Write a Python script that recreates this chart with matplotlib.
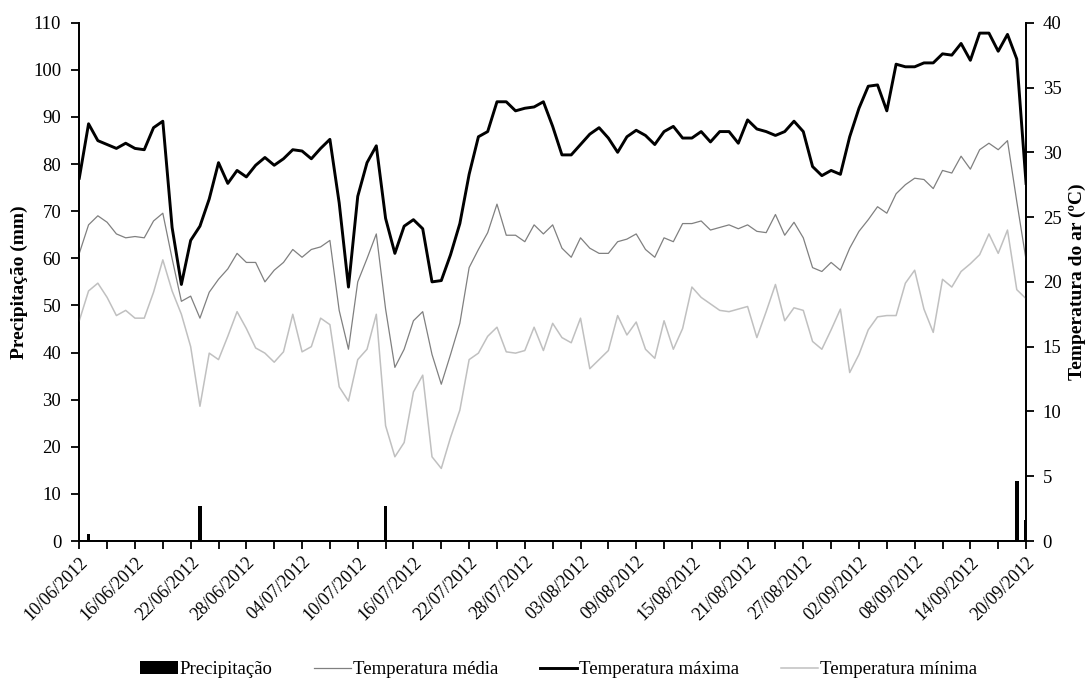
import matplotlib
matplotlib.use("Agg")
import matplotlib.pyplot as plt
import pandas as pd

plt.rcParams['font.family'] = ['Liberation Serif', 'DejaVu Serif']

# daily series, 10/06/2012 .. 20/09/2012
dates = pd.date_range("2012-06-10", "2012-09-20", freq="D")

precip = [0.3, 1.5, 0.2, 0, 0, 0, 0, 0, 0, 0, 0, 0, 0, 7.5, 0, 0, 0, 0, 0, 0,
          0, 0, 0, 0, 0, 0, 0, 0, 0, 0.3, 0, 0, 0, 7.4, 0, 0, 0, 0, 0, 0,
          0, 0.2, 0, 0, 0, 0, 0, 0, 0, 0, 0, 0, 0, 0, 0, 0, 0, 0, 0, 0,
          0, 0, 0, 0, 0, 0, 0, 0, 0, 0, 0, 0, 0, 0, 0, 0, 0, 0, 0, 0,
          0, 0, 0, 0, 0, 0, 0, 0, 0, 0, 0, 0, 0, 0, 0, 0, 0, 0, 0, 0,
          0, 12.7, 4.4]

t_max = [28.0, 32.2, 30.9, 30.6, 30.3, 30.7, 30.3, 30.2, 31.9, 32.4,
         24.2, 19.8, 23.2, 24.3, 26.4, 29.2, 27.6, 28.6, 28.1, 29.0,
         29.6, 29.0, 29.5, 30.2, 30.1, 29.5, 30.3, 31.0, 26.1, 19.6,
         26.6, 29.2, 30.5, 24.9, 22.2, 24.3, 24.8, 24.1, 20.0, 20.1,
         22.1, 24.5, 28.3, 31.2, 31.6, 33.9, 33.9, 33.2, 33.4, 33.5,
         33.9, 32.0, 29.8, 29.8, 30.6, 31.4, 31.9, 31.1, 30.0, 31.2,
         31.7, 31.3, 30.6, 31.6, 32.0, 31.1, 31.1, 31.6, 30.8, 31.6,
         31.6, 30.7, 32.5, 31.8, 31.6, 31.3, 31.6, 32.4, 31.6, 28.9,
         28.2, 28.6, 28.3, 31.2, 33.4, 35.1, 35.2, 33.2, 36.8, 36.6,
         36.6, 36.9, 36.9, 37.6, 37.5, 38.4, 37.1, 39.2, 39.2, 37.8,
         39.1, 37.2, 27.6]

t_mean = [22.2, 24.4, 25.1, 24.6, 23.7, 23.4, 23.5, 23.4, 24.7, 25.3,
          21.8, 18.5, 18.9, 17.2, 19.2, 20.2, 21.0, 22.2, 21.5, 21.5,
          20.0, 20.9, 21.5, 22.5, 21.9, 22.5, 22.7, 23.2, 17.8, 14.8,
          20.0, 21.8, 23.7, 17.9, 13.4, 14.8, 17.0, 17.7, 14.4, 12.1,
          14.4, 16.8, 21.1, 22.5, 23.8, 26.0, 23.6, 23.6, 23.1, 24.4,
          23.7, 24.4, 22.6, 21.9, 23.4, 22.6, 22.2, 22.2, 23.1, 23.3,
          23.7, 22.5, 21.9, 23.4, 23.1, 24.5, 24.5, 24.7, 24.0, 24.2,
          24.4, 24.1, 24.4, 23.9, 23.8, 25.2, 23.6, 24.6, 23.4, 21.1,
          20.8, 21.5, 20.9, 22.6, 23.9, 24.8, 25.8, 25.3, 26.8, 27.5,
          28.0, 27.9, 27.2, 28.6, 28.4, 29.7, 28.7, 30.2, 30.7, 30.2,
          30.9, 26.2, 21.7]

t_min = [17.0, 19.3, 19.9, 18.8, 17.4, 17.8, 17.2, 17.2, 19.2, 21.7,
         19.3, 17.5, 15.0, 10.4, 14.5, 14.0, 15.8, 17.7, 16.4, 14.9,
         14.5, 13.8, 14.6, 17.5, 14.6, 15.0, 17.2, 16.7, 11.9, 10.8,
         14.0, 14.8, 17.5, 8.9, 6.5, 7.6, 11.5, 12.8, 6.5, 5.6,
         8.0, 10.1, 14.0, 14.5, 15.8, 16.5, 14.6, 14.5, 14.7, 16.5,
         14.7, 16.8, 15.7, 15.3, 17.2, 13.3, 14.0, 14.7, 17.4, 15.9,
         16.9, 14.8, 14.1, 17.0, 14.8, 16.4, 19.6, 18.8, 18.3, 17.8,
         17.7, 17.9, 18.1, 15.7, 17.7, 19.8, 17.0, 18.0, 17.8, 15.4,
         14.8, 16.3, 17.9, 13.0, 14.4, 16.3, 17.3, 17.4, 17.4, 19.9,
         20.9, 17.9, 16.1, 20.2, 19.6, 20.8, 21.4, 22.1, 23.7, 22.2,
         24.0, 19.4, 18.7]

x = list(range(len(dates)))

fig = plt.figure(figsize=(10.89, 6.89), dpi=100)
ax = fig.add_axes([0.0728, 0.2148, 0.8694, 0.7522])
ax2 = ax.twinx()

bars = ax.bar(x, precip, width=0.38, color='black', label='Precipitação', zorder=2)
l_mean, = ax2.plot(x, t_mean, color='#808080', lw=0.9, label='Temperatura média')
l_max, = ax2.plot(x, t_max, color='black', lw=2.1, label='Temperatura máxima')
l_min, = ax2.plot(x, t_min, color='#c0c0c0', lw=1.1, label='Temperatura mínima')

ax.set_xlim(0, len(dates) - 1)
ax.set_ylim(0, 110)
ax.set_yticks(range(0, 111, 10))
ax2.set_ylim(0, 40)
ax2.set_yticks(range(0, 41, 5))

ax.set_xticks(x[::6])
ax.set_xticklabels([d.strftime('%d/%m/%Y') for d in dates[::6]],
                   rotation=45, ha='right', rotation_mode='anchor')
ax.set_xticks(x[::3], minor=True)

for a in (ax, ax2):
    a.spines['top'].set_visible(False)
    for s in ('left', 'right', 'bottom'):
        a.spines[s].set_linewidth(1.3)
    a.tick_params(axis='both', which='both', direction='out', length=6,
                  width=1.3, labelsize=13.5)
ax.tick_params(axis='y', pad=7)
ax2.tick_params(axis='y', pad=6)
ax.tick_params(axis='x', which='major', pad=3, labelsize=13)

ax.set_ylabel('Precipitação (mm)', fontsize=14, fontweight='bold', labelpad=4)
ax2.set_ylabel('Temperatura do ar (ºC)', fontsize=14, fontweight='bold', labelpad=5)

fig.legend(handles=[bars, l_mean, l_max, l_min], loc='center',
           bbox_to_anchor=(0.513, 0.028), ncol=4, frameon=False,
           fontsize=13.5, handlelength=2.0, columnspacing=2.2, handletextpad=0.1)

fig.savefig('out.png', dpi=100)
